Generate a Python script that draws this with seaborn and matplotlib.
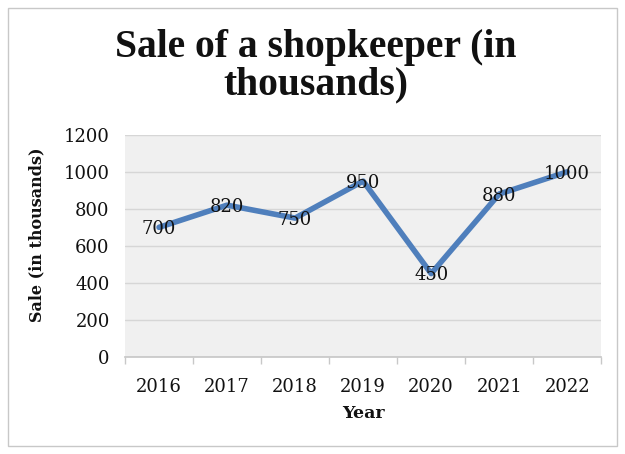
import matplotlib.pyplot as plt
import matplotlib.patches as mpatches
import pandas as pd
import seaborn as sns

# Chart data
years = ["2016", "2017", "2018", "2019", "2020", "2021", "2022"]
sales = [700, 820, 750, 950, 450, 880, 1000]
y_ticks = [0, 200, 400, 600, 800, 1000, 1200]

df = pd.DataFrame({"Year": years, "Sale": sales})

sns.set_theme(style="white")
plt.rcParams["font.family"] = ["DejaVu Serif", "Liberation Serif"]
plt.rcParams["text.color"] = "#111111"
plt.rcParams["axes.labelcolor"] = "#111111"
plt.rcParams["xtick.color"] = "#111111"
plt.rcParams["ytick.color"] = "#111111"

fig = plt.figure(figsize=(6.25, 4.54), dpi=100)
ax = fig.add_axes([0.2, 0.214, 0.762, 0.489])

# outer chart border
fig.patches.append(mpatches.Rectangle((0.013, 0.018), 0.974, 0.964, transform=fig.transFigure,
                                      fill=False, edgecolor="#c8c8c8", linewidth=1))

ax.set_facecolor("#f0f0f0")
sns.lineplot(data=df, x="Year", y="Sale", ax=ax, color="#4f7fbc", linewidth=4,
             sort=False, solid_capstyle="round")

for i, v in enumerate(sales):
    ax.text(i, v - 10, str(v), ha="center", va="center", fontsize=13, color="#111111")

ax.set_xlim(-0.5, 6.5)
ax.set_ylim(0, 1200)
ax.set_yticks(y_ticks)
ax.yaxis.grid(True, color="#d6d6d6", linewidth=1)
ax.set_axisbelow(True)
for side in ["left", "top", "right"]:
    ax.spines[side].set_visible(False)
ax.spines["bottom"].set_color("#c8c8c8")

# tick marks between categories
ax.set_xticks(range(len(years)))
ax.set_xticklabels(years)
ax.set_xticks([i - 0.5 for i in range(len(years) + 1)], minor=True)
ax.tick_params(axis="x", which="major", length=0, labelsize=13, pad=15)
ax.tick_params(axis="x", which="minor", length=5, color="#c8c8c8", direction="out", bottom=True)
ax.tick_params(axis="y", length=0, labelsize=13, pad=11)

ax.set_xlabel("Year", fontsize=12.5, fontweight="bold", labelpad=7)
ax.set_ylabel("Sale (in thousands)", fontsize=11.5, fontweight="bold")
ax.yaxis.set_label_coords(-0.168, 0.55)

fig.text(0.505, 0.937, "Sale of a shopkeeper (in\nthousands)", fontsize=28.5, fontweight="bold",
         family="Liberation Serif", ha="center", va="top", linespacing=1.02, color="#111111")

fig.savefig("out.png", dpi=100)
